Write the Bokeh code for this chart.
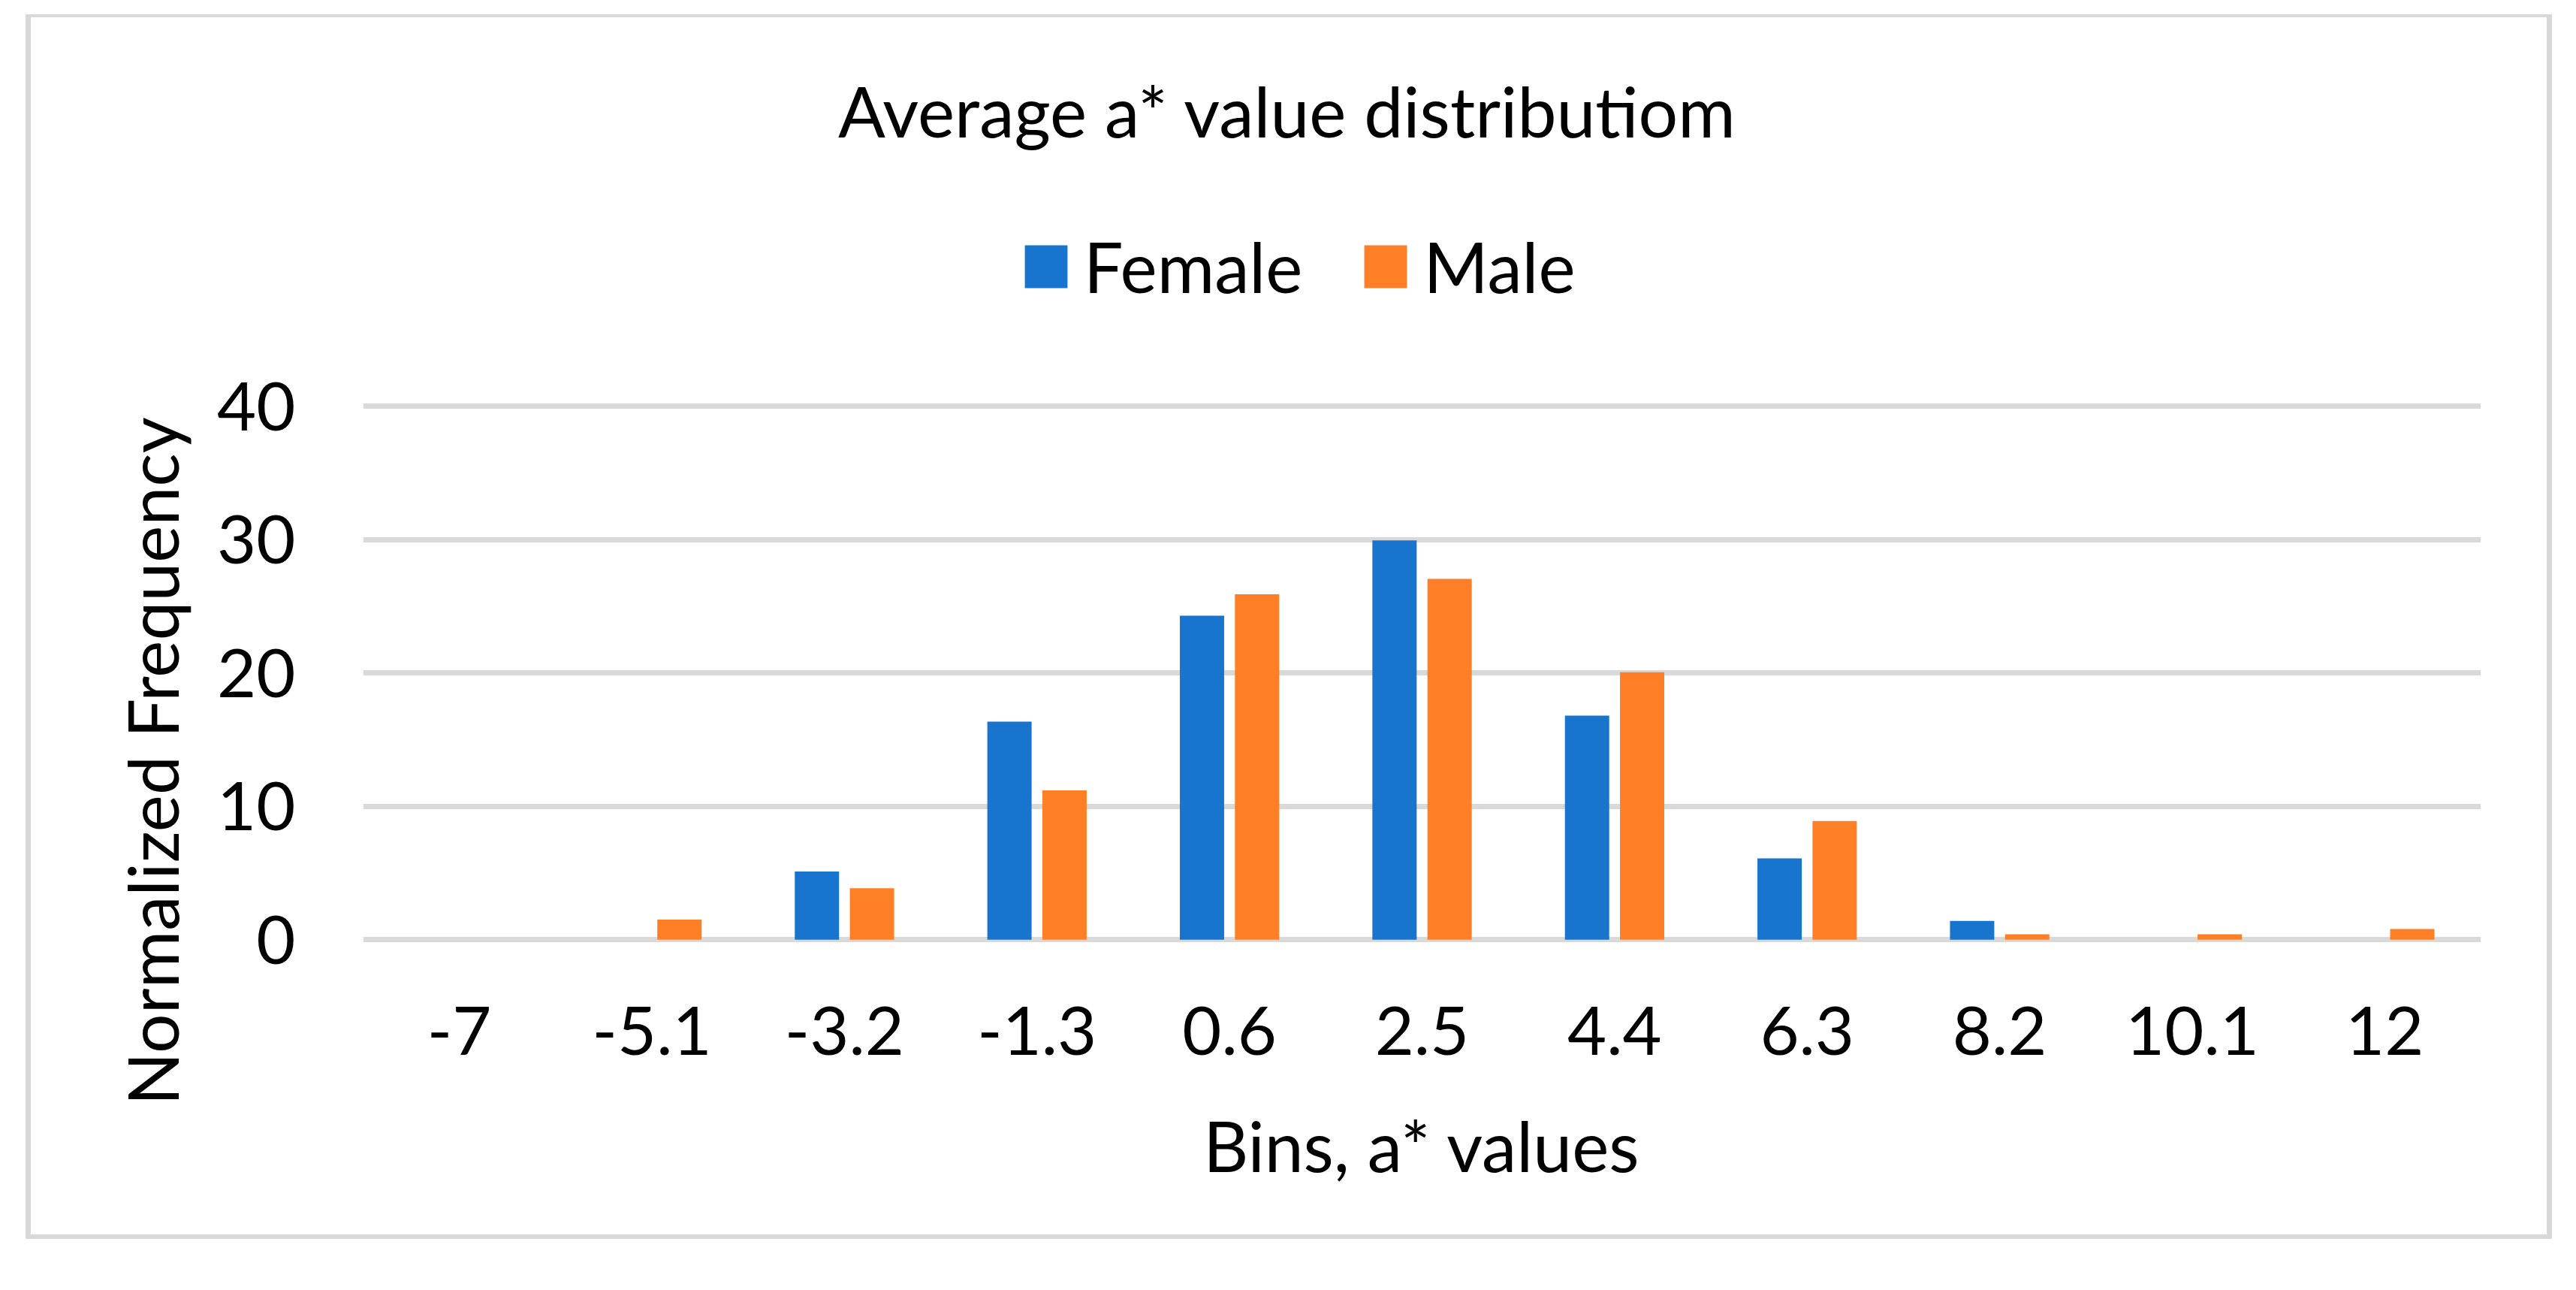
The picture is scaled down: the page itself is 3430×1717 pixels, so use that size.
from bokeh.plotting import figure
from bokeh.models import (ColumnDataSource, FactorRange, Range1d, FixedTicker, Legend,
                          LegendItem, Title, Label)
from bokeh.transform import dodge
from bokeh.embed import file_html
from bokeh.resources import INLINE

# ---- data ----
bins = ["-7", "-5.1", "-3.2", "-1.3", "0.6", "2.5", "4.4", "6.3", "8.2", "10.1", "12"]
female = [0, 0, 5.1, 16.35, 24.3, 29.95, 16.8, 6.1, 1.4, 0, 0]
male = [0, 1.5, 3.85, 11.2, 25.9, 27.05, 20.05, 8.9, 0.4, 0.4, 0.8]
y_ticks = [0, 10, 20, 30, 40]

title_text = "Average a* value distributiom"
x_title = "Bins, a* values"
y_title = "Normalized Frequency"

FEMALE_C = "#1874CD"
MALE_C = "#FF7F27"
GRID_C = "#D9D9D9"
FONT = "Lato"
FS = "90px"      # tick labels
FS_T = "93px"    # title, legend and axis titles

src = ColumnDataSource(dict(bins=bins, female=female, male=male))

# the frame reaches up to the chart's top so title and legend sit inside it
p = figure(width=3430, height=1682, output_backend="svg", toolbar_location=None,
           x_range=FactorRange(factors=bins, range_padding=0),
           y_range=Range1d(-0.5, 68.7),
           min_border_left=483, min_border_right=127,
           min_border_top=31, min_border_bottom=423)
p.outline_line_color = None
p.background_fill_color = "white"
p.border_fill_color = None

# outer chart border drawn as the page element's background
g = f"linear-gradient({GRID_C},{GRID_C})"
p.styles = {
    "background-color": "white",
    "background-image": ", ".join([g] * 4),
    "background-position": "34px 19px, 3391px 19px, 34px 19px, 34px 1643px",
    "background-size": "7px 1630px, 7px 1630px, 3364px 4px, 3364px 6px",
    "background-repeat": "no-repeat",
}

fr = p.vbar(x=dodge("bins", -0.143, range=p.x_range), top="female", width=0.23,
            source=src, fill_color=FEMALE_C, line_color=None)
mr = p.vbar(x=dodge("bins", 0.143, range=p.x_range), top="male", width=0.23,
            source=src, fill_color=MALE_C, line_color=None)

# axes
p.yaxis.ticker = FixedTicker(ticks=y_ticks)
p.yaxis.axis_line_color = None
p.yaxis.major_tick_line_color = None
p.yaxis.minor_tick_line_color = None
p.yaxis.major_tick_out = 0
p.yaxis.major_label_standoff = 90
p.yaxis.major_label_text_font = FONT
p.yaxis.major_label_text_font_size = FS
p.yaxis.major_label_text_color = "black"

p.xaxis.axis_line_color = None
p.xaxis.major_tick_line_color = None
p.xaxis.major_tick_out = 0
p.xaxis.major_label_standoff = 80
p.xaxis.major_label_text_font = FONT
p.xaxis.major_label_text_font_size = FS
p.xaxis.major_label_text_color = "black"
p.xaxis.axis_label = x_title
p.xaxis.axis_label_standoff = 61
p.xaxis.axis_label_text_font = FONT
p.xaxis.axis_label_text_font_size = FS_T
p.xaxis.axis_label_text_font_style = "normal"
p.xaxis.axis_label_text_color = "black"

p.xgrid.grid_line_color = None
p.ygrid.ticker = FixedTicker(ticks=y_ticks)
p.ygrid.grid_line_color = GRID_C
p.ygrid.grid_line_width = 7

# chart title
p.add_layout(Label(x=4.802, y=62.2, text=title_text, text_align="center",
                   text_baseline="alphabetic", text_font=FONT,
                   text_font_size=FS_T, text_color="black"))

# legend
legend = Legend(items=[LegendItem(label="Female", renderers=[fr]),
                       LegendItem(label="Male", renderers=[mr])],
                orientation="horizontal", location=(874, 849),
                glyph_width=71, glyph_height=71, label_standoff=15, spacing=75,
                padding=0, margin=0, border_line_color=None,
                background_fill_alpha=0,
                label_text_font=FONT, label_text_font_size=FS_T,
                label_text_color="black")
p.add_layout(legend, "center")

# y axis title
p.add_layout(Title(text=y_title, align="left", offset=-212, standoff=58,
                   text_font=FONT, text_font_size=FS_T, text_font_style="normal",
                   text_color="black"), "left")

open("out.html", "w").write(file_html(p, INLINE))
